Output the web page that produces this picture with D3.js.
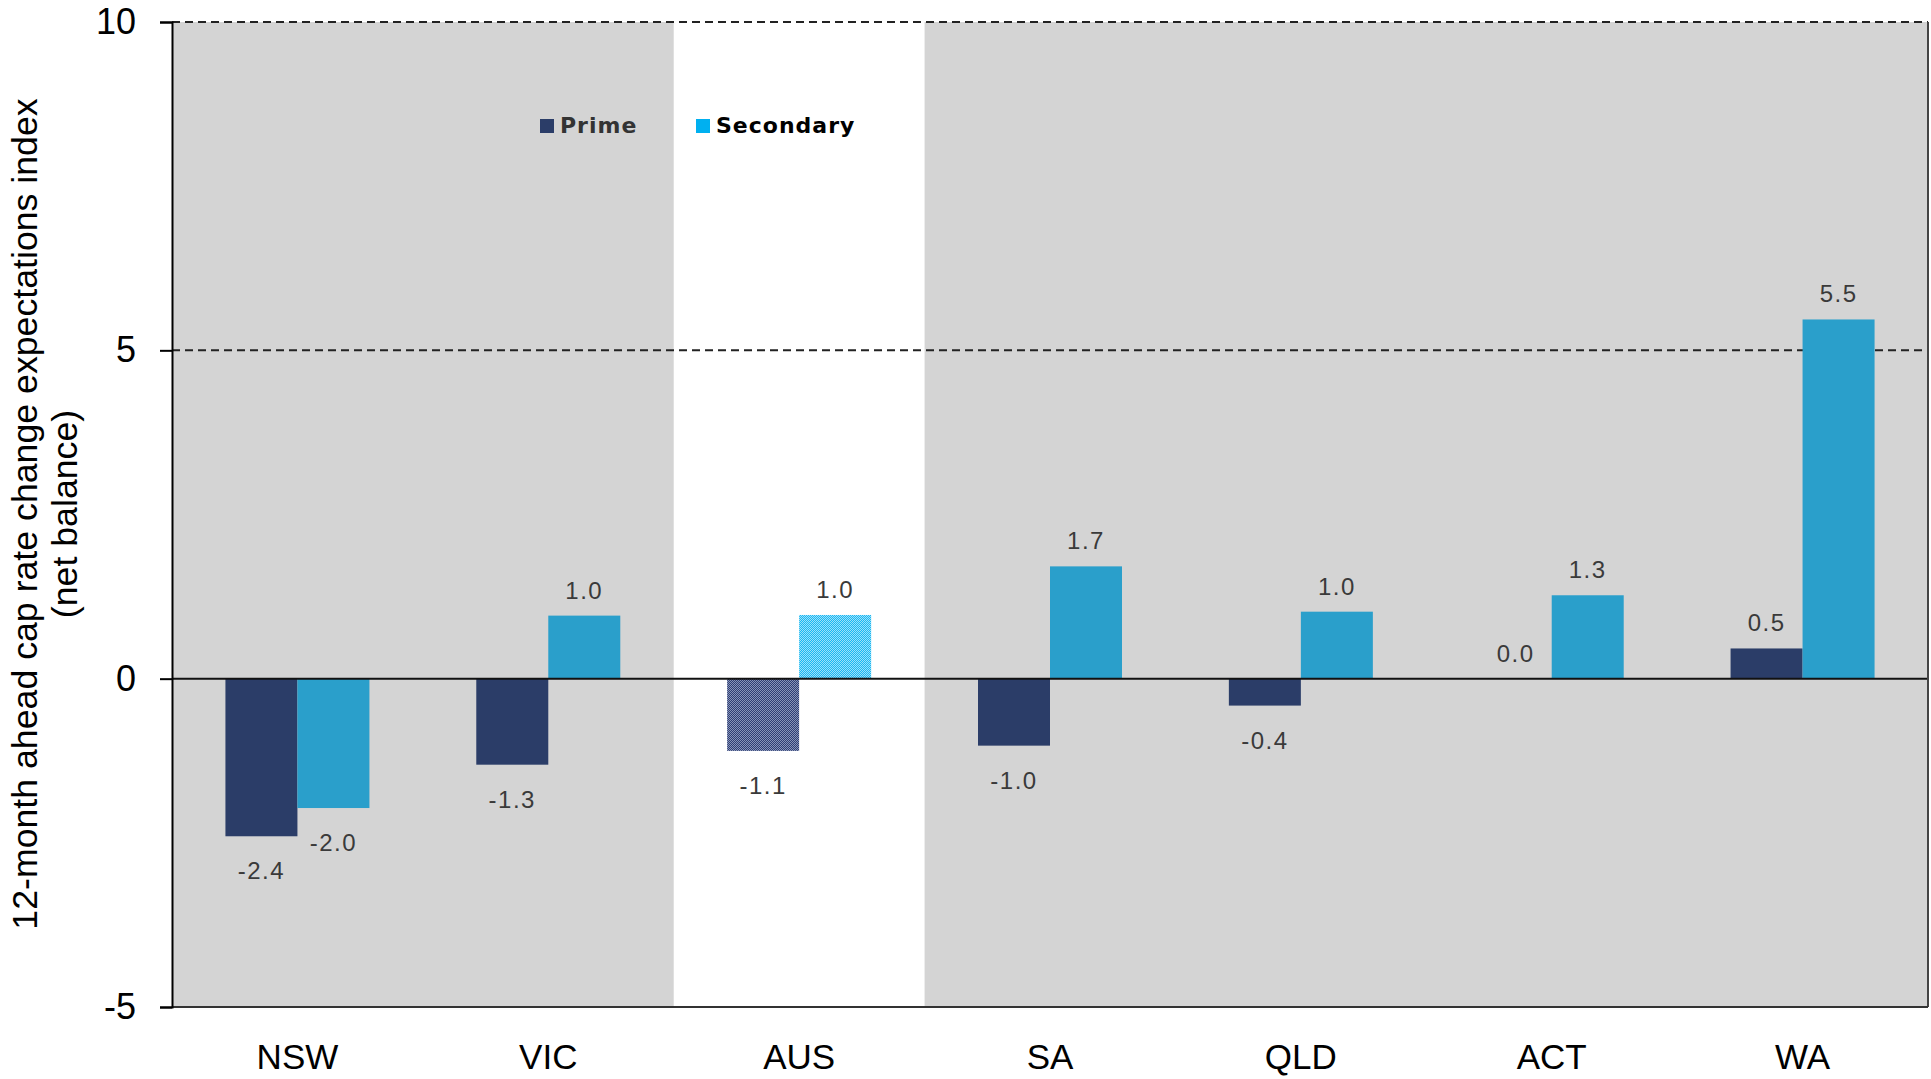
<!DOCTYPE html>
<html>
<head>
<meta charset="utf-8">
<script src="https://cdn.jsdelivr.net/npm/d3@7"></script>
<style>
  body { margin: 0; background: #fff; }
  svg { display: block; }
</style>
</head>
<body>
<div id="hook"></div>
<script>
// data
var categories = ["NSW", "VIC", "AUS", "SA", "QLD", "ACT", "WA"];
var series = ["Prime", "Secondary"];
var prime = [-2.4, -1.31, -1.1, -1.02, -0.41, 0.0, 0.46];
var secondary = [-1.97, 0.96, 0.97, 1.71, 1.02, 1.27, 5.47];
var yTicks = [-5, 0, 5, 10];
var highlight = "AUS";

var w = 1931, h = 1079;
var margin = { top: 22, right: 3, bottom: 72, left: 172 };

var colors = { Prime: "#2b3d68", Secondary: "#2a9fcb" };
var legendColors = { Prime: "#2b3d68", Secondary: "#00b0f0" };
var patternColors = { Prime: "#1c2d66", Secondary: "#00b0f0" };
var patternLight = { Prime: "#9aa6c6", Secondary: "#b8e8fb" };
var grey = "#d4d4d4";

// plain hyphen for negatives, as in the original
var loc = d3.formatLocale({ decimal: ".", thousands: ",", grouping: [3], currency: ["$", ""], minus: "-" });
var fmt1 = loc.format(".1f");
var fmt0 = loc.format("d");

var svg = d3.select("#hook")
    .append("svg")
    .attr("width", w)
    .attr("height", h);

var x = d3.scaleBand()
    .domain(categories)
    .range([margin.left, w - margin.right])
    .padding(0);

var x1 = d3.scaleBand()
    .domain(series)
    .range([-72, 72])
    .padding(0);

var y = d3.scaleLinear()
    .domain([-5, 10])
    .range([h - margin.bottom, margin.top]);

// patterns for the AUS bars
var defs = svg.append("defs");
series.forEach(function (s) {
    var p = defs.append("pattern")
        .attr("id", "pat-" + s)
        .attr("patternUnits", "userSpaceOnUse")
        .attr("width", 2)
        .attr("height", 2);
    p.append("rect").attr("width", 2).attr("height", 2).attr("fill", patternLight[s]);
    p.append("rect").attr("x", 0).attr("y", 0).attr("width", 1).attr("height", 1).attr("fill", patternColors[s]);
    p.append("rect").attr("x", 1).attr("y", 1).attr("width", 1).attr("height", 1).attr("fill", patternColors[s]);
});

// plot background, with the highlighted band left white
svg.append("rect")
    .attr("x", margin.left)
    .attr("y", y(10))
    .attr("width", w - margin.right - margin.left)
    .attr("height", y(-5) - y(10))
    .attr("fill", grey);

svg.append("rect")
    .attr("x", x(highlight))
    .attr("y", y(10))
    .attr("width", x.bandwidth())
    .attr("height", y(-5) - y(10))
    .attr("fill", "#ffffff");

// dashed gridlines
svg.selectAll("line.grid")
    .data([5, 10])
    .enter()
    .append("line")
    .attr("class", "grid")
    .attr("x1", margin.left)
    .attr("x2", w - margin.right)
    .attr("y1", function (d) { return y(d); })
    .attr("y2", function (d) { return y(d); })
    .attr("stroke", "#222")
    .attr("stroke-width", 2)
    .attr("stroke-dasharray", "8,5");

// bars
var rows = categories.map(function (c, i) {
    return { cat: c, values: [{ s: "Prime", v: prime[i] }, { s: "Secondary", v: secondary[i] }] };
});

var groups = svg.selectAll("g.cat")
    .data(rows)
    .enter()
    .append("g")
    .attr("class", "cat")
    .attr("transform", function (d) { return "translate(" + (x(d.cat) + x.bandwidth() / 2) + ",0)"; });

groups.selectAll("rect")
    .data(function (d) { return d.values.map(function (e) { return { cat: d.cat, s: e.s, v: e.v }; }); })
    .enter()
    .append("rect")
    .attr("x", function (d) { return x1(d.s); })
    .attr("y", function (d) { return y(Math.max(0, d.v)); })
    .attr("width", x1.bandwidth())
    .attr("height", function (d) { return Math.abs(y(d.v) - y(0)); })
    .attr("fill", function (d) { return d.cat === highlight ? "url(#pat-" + d.s + ")" : colors[d.s]; });

groups.selectAll("text")
    .data(function (d) { return d.values; })
    .enter()
    .append("text")
    .text(function (d) { return fmt1(d.v); })
    .attr("text-anchor", "middle")
    .attr("x", function (d) { return x1(d.s) + x1.bandwidth() / 2; })
    .attr("y", function (d) { return d.v >= 0 ? y(d.v) - 17 : y(d.v) + 43; })
    .attr("font-family", "Liberation Sans, Arial, sans-serif")
    .attr("font-size", 24)
    .attr("letter-spacing", 1.5)
    .attr("fill", "#3a3a3a");

// zero line
svg.append("line")
    .attr("x1", margin.left)
    .attr("x2", w - margin.right)
    .attr("y1", y(0))
    .attr("y2", y(0))
    .attr("stroke", "#111")
    .attr("stroke-width", 2);

// frame: right and bottom
svg.append("line")
    .attr("x1", w - margin.right)
    .attr("x2", w - margin.right)
    .attr("y1", y(10))
    .attr("y2", y(-5))
    .attr("stroke", "#444")
    .attr("stroke-width", 2);
svg.append("line")
    .attr("x1", margin.left)
    .attr("x2", w - margin.right)
    .attr("y1", y(-5))
    .attr("y2", y(-5))
    .attr("stroke", "#333")
    .attr("stroke-width", 2);

// y axis
var yAxis = d3.axisLeft(y)
    .tickValues(yTicks)
    .tickSize(12)
    .tickPadding(24)
    .tickFormat(fmt0);

var gy = svg.append("g")
    .attr("transform", "translate(" + margin.left + ",0)")
    .call(yAxis);
gy.select(".domain").attr("stroke", "#000").attr("stroke-width", 2);
gy.selectAll(".tick line").attr("stroke", "#000").attr("stroke-width", 2);
gy.selectAll(".tick text")
    .attr("font-family", "Liberation Sans, Arial, sans-serif")
    .attr("font-size", 36)
    .attr("fill", "#000");

// x axis labels
var xAxis = d3.axisBottom(x).tickSize(0).tickPadding(37);
var gx = svg.append("g")
    .attr("transform", "translate(0," + y(-5) + ")")
    .call(xAxis);
gx.select(".domain").remove();
gx.selectAll(".tick text")
    .attr("font-family", "Liberation Sans, Arial, sans-serif")
    .attr("font-size", 35)
    .attr("fill", "#000");

// y title
var title = svg.append("text")
    .attr("transform", "rotate(-90)")
    .attr("text-anchor", "middle")
    .attr("font-family", "Liberation Sans, Arial, sans-serif")
    .attr("font-size", 35.7)
    .attr("fill", "#000");
title.append("tspan").attr("x", -514).attr("y", 37).text("12-month ahead cap rate change expectations index");
title.append("tspan").attr("x", -514).attr("y", 77).text("(net balance)");

// legend
var legendX = [540, 696];
var legend = svg.selectAll("g.legend")
    .data(series)
    .enter()
    .append("g")
    .attr("class", "legend")
    .attr("transform", function (d, i) { return "translate(" + legendX[i] + ",119)"; });
legend.append("rect")
    .attr("width", 14)
    .attr("height", 14)
    .attr("fill", function (d) { return legendColors[d]; });
legend.append("text")
    .text(function (d) { return d; })
    .attr("x", 20)
    .attr("y", 14)
    .attr("font-family", "DejaVu Sans, Verdana, sans-serif")
    .attr("font-weight", "bold")
    .attr("font-size", 22)
    .attr("letter-spacing", 1)
    .attr("fill", function (d, i) { return i === 0 ? "#333" : "#000"; });
</script>
</body>
</html>
